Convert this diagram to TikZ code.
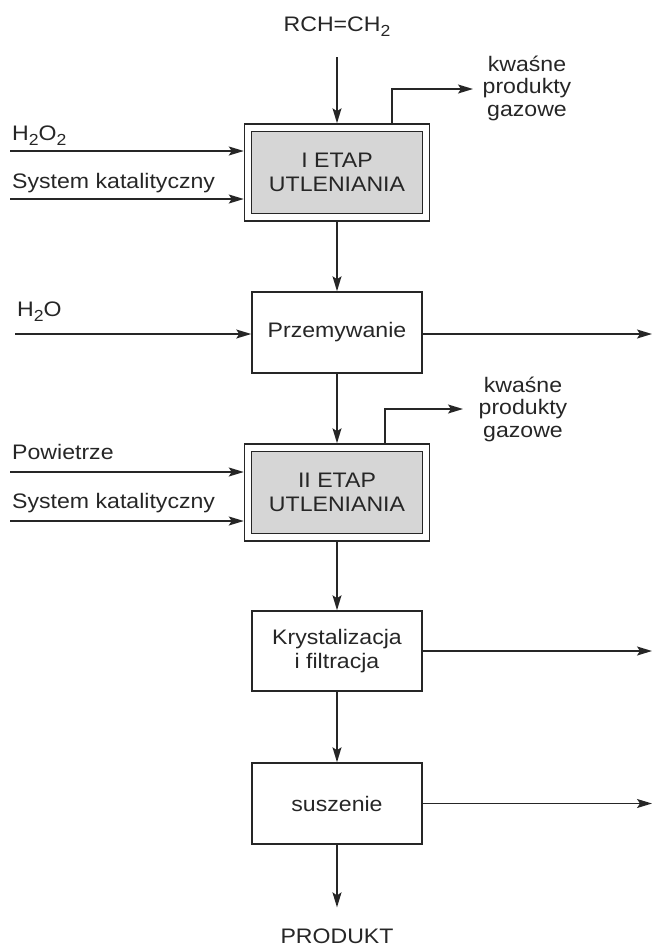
\documentclass[tikz,border=0pt]{standalone}
\usepackage{fontspec}
\setmainfont{Liberation Sans}[FakeStretch=1.1]
\usetikzlibrary{arrows.meta}
\newcommand\lowtwo{\raisebox{-0.45ex}{\fontsize{16}{16}\selectfont 2}}
\begin{document}
\begin{tikzpicture}[x=1pt,y=-1pt,
  every node/.style={font=\fontsize{21}{24}\selectfont, inner sep=0pt, text=black!85},
  line/.style={line width=1.5pt, draw=black!85},
  arr/.style={line, -{Stealth[length=15pt,width=9pt,inset=3pt]}},
  proc/.style={draw=black!85, line width=1.5pt, minimum width=170pt, minimum height=81pt, align=center},
  outerbox/.style={draw=black!85, line width=1.5pt, minimum width=185pt, minimum height=97pt},
  innerbox/.style={draw=black!85, line width=1.5pt, fill=black!16, minimum width=171pt, minimum height=82pt, align=center},
  lbl/.style={anchor=west},
  gas/.style={align=center, font=\fontsize{21}{22.5}\selectfont}
]
\useasboundingbox (0,0) rectangle (654,951);

% boxes
\node[outerbox] (b1o) at (337,172.5) {};
\node[innerbox] (b1i) at (337,172.5) {I ETAP\\UTLENIANIA};
\node[proc] (prz) at (337,332.5) {Przemywanie};
\node[outerbox] (b2o) at (337,492.5) {};
\node[innerbox] (b2i) at (337,492.5) {II ETAP\\UTLENIANIA};
\node[proc, minimum height=80pt] (kry) at (337,651) {Krystalizacja\\i filtracja};
\node[proc] (sus) at (337,803.5) {suszenie};

% texts
\node (rch) at (337,27) {RCH=CH\lowtwo};
\node (prod) at (337,936) {PRODUKT};
\node[gas] (g1) at (527,88) {kwaśne\\produkty\\gazowe};
\node[gas] (g2) at (523,409) {kwaśne\\produkty\\gazowe};
\node[lbl] (h2o2) at (12,136) {H\lowtwo O\lowtwo};
\node[lbl] (sk1) at (12,183) {System katalityczny};
\node[lbl] (h2o) at (17,312) {H\lowtwo O};
\node[lbl] (pow) at (12,452) {Powietrze};
\node[lbl] (sk2) at (12,503) {System katalityczny};

% free-end coordinates
\coordinate (i1) at (10,151);
\coordinate (i2) at (10,199);
\coordinate (i3) at (15,334);
\coordinate (i4) at (10,472);
\coordinate (i5) at (10,521);
\coordinate (outR) at (652,0);
\coordinate (g1x) at (392,0);
\coordinate (g1end) at (473,89);
\coordinate (g2x) at (385,0);
\coordinate (g2end) at (463,409);

% main flow
\draw[arr, shorten <=20pt] (rch.south) -- (b1o.north);
\draw[arr] (b1o.south) -- (prz.north);
\draw[arr] (prz.south) -- (b2o.north);
\draw[arr] (b2o.south) -- (kry.north);
\draw[arr] (kry.south) -- (sus.north);
\draw[arr, shorten >=21pt] (sus.south) -- (prod.north);

% inputs
\draw[arr] (i1) -- (i1 -| b1o.west);
\draw[arr] (i2) -- (i2 -| b1o.west);
\draw[arr] (i3) -- (i3 -| prz.west);
\draw[arr] (i4) -- (i4 -| b2o.west);
\draw[arr] (i5) -- (i5 -| b2o.west);

% outputs
\draw[arr] (prz.east |- i3) -- (outR |- i3);
\draw[arr] (kry.east) -- (outR |- kry.east);
\draw[arr] (sus.east) -- (outR |- sus.east);
\draw[arr] (b1o.north -| g1x) |- (g1end);
\draw[arr] (b2o.north -| g2x) |- (g2end);
\end{tikzpicture}
\end{document}
